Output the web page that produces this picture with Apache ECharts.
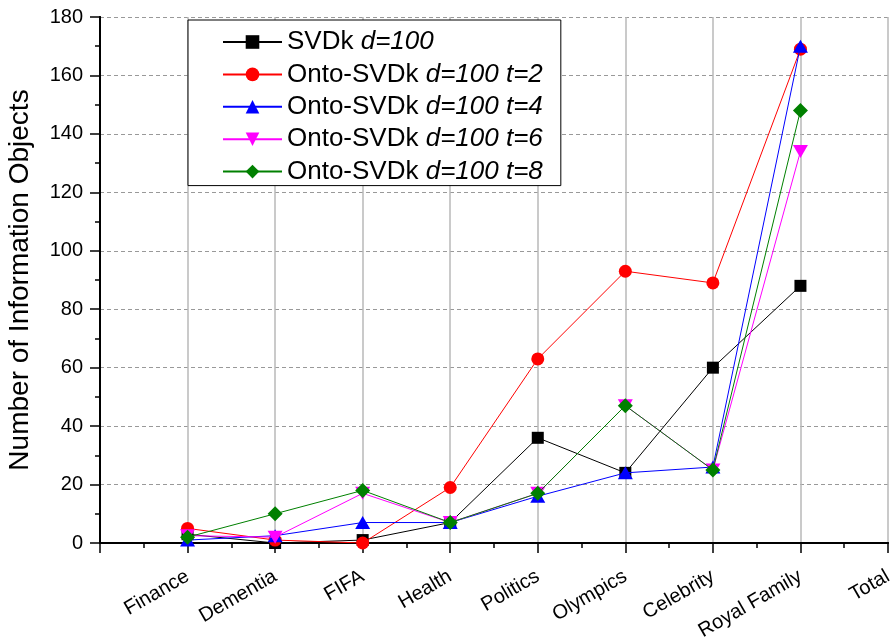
<!DOCTYPE html>
<html>
<head>
<meta charset="utf-8">
<script src="https://cdn.jsdelivr.net/npm/echarts@6/dist/echarts.min.js"></script>
<style>html,body{margin:0;padding:0;background:#fff}#c{width:891px;height:643px}</style>
</head>
<body>
<div id="c"></div>
<script>
const categories = ['Finance','Dementia','FIFA','Health','Politics','Olympics','Celebrity','Royal Family','Total'];
const seriesNames = ['SVDk d=100','Onto-SVDk d=100 t=2','Onto-SVDk d=100 t=4','Onto-SVDk d=100 t=6','Onto-SVDk d=100 t=8'];
const svdk   = [3, 0, 1, 7, 36, 24, 60, 88];
const ontoT2 = [5, 1, 0, 19, 63, 93, 89, 169];
const ontoT4 = [1, 2.5, 7, 7, 16, 24, 26, 170];
const ontoT6 = [2.5, 2, 17, 7, 17, 47, 25, 134];
const ontoT8 = [2, 10, 18, 7, 17, 47, 25, 148];
const yTicks = [0, 20, 40, 60, 80, 100, 120, 140, 160, 180];

const FONT = 'Liberation Sans, Arial, sans-serif';
const colors = ['#000000', '#ff0000', '#0000ff', '#ff00ff', '#008000'];
const symbols = ['rect', 'circle', 'triangle', 'path://M0,0 L10,0 L5,9 Z', 'diamond'];
const sizes = [12, 13, [15, 13], [15, 13], 15];
const valueSets = [svdk, ontoT2, ontoT4, ontoT6, ontoT8];

const chart = echarts.init(document.getElementById('c'), null, {renderer: 'canvas'});
const axisLine = {show: true, lineStyle: {color: '#000', width: 2}};
chart.setOption({
  animation: false,
  backgroundColor: '#fff',
  grid: {left: 100, right: 3, top: 17, bottom: 100, outerBoundsMode: 'none', containLabel: false},
  legend: {
    orient: 'vertical', left: 188, top: 20,
    backgroundColor: '#fff', borderColor: '#000', borderWidth: 1,
    padding: [9, 18, 1, 34],
    itemWidth: 59, itemHeight: 17, itemGap: 6.4,
    textStyle: {fontFamily: FONT, fontSize: 26, color: '#000',
      rich: {n: {fontFamily: FONT, fontSize: 26, lineHeight: 26, color: '#000'},
             i: {fontFamily: FONT, fontSize: 26, lineHeight: 26, fontStyle: 'italic', color: '#000'}}},
    formatter: function (name) {
      const k = name.indexOf(' d=');
      return '{n|' + name.slice(0, k) + ' }{i|' + name.slice(k + 1) + '}';
    },
    data: seriesNames
  },
  xAxis: [{
    type: 'value', min: 0, max: 9, interval: 1, position: 'bottom',
    axisLine: axisLine,
    axisTick: {show: true, length: 10, inside: false, lineStyle: {color: '#000', width: 1.5}},
    minorTick: {show: true, splitNumber: 2, length: 5, lineStyle: {color: '#000', width: 1.5}},
    axisLabel: {rotate: 30, margin: 32, fontFamily: FONT, fontSize: 20, color: '#000',
      formatter: v => (v >= 1 && v <= categories.length) ? categories[v - 1] : ''},
    splitLine: {show: true, lineStyle: {color: '#b8b8b8', width: 1.5}}
  }, {
    type: 'value', min: 0, max: 9, interval: 1, position: 'top',
    axisLine: axisLine,
    axisTick: {show: true, length: 6, inside: true, lineStyle: {color: '#000', width: 1.5}},
    minorTick: {show: true, splitNumber: 2, length: 4, lineStyle: {color: '#000', width: 1.5}},
    axisLabel: {show: false}, splitLine: {show: false}
  }],
  yAxis: [{
    type: 'value', min: 0, max: 180, interval: 20, position: 'left',
    name: 'Number of Information Objects', nameLocation: 'middle', nameGap: 66,
    nameTextStyle: {fontFamily: FONT, fontSize: 28, color: '#000'},
    axisLine: axisLine,
    axisTick: {show: true, length: 10, inside: false, lineStyle: {color: '#000', width: 1.5}},
    minorTick: {show: true, splitNumber: 2, length: 5, lineStyle: {color: '#000', width: 1.5}},
    axisLabel: {margin: 17, fontFamily: FONT, fontSize: 20, color: '#000',
      formatter: v => yTicks.includes(v) ? String(v) : ''},
    splitLine: {show: true, lineStyle: {color: '#999', width: 1, type: [4, 3]}}
  }, {
    type: 'value', min: 0, max: 180, interval: 20, position: 'right',
    axisLine: axisLine,
    axisTick: {show: true, length: 7, inside: true, lineStyle: {color: '#000', width: 1.5}},
    minorTick: {show: true, splitNumber: 2, length: 4, lineStyle: {color: '#000', width: 1.5}},
    axisLabel: {show: false}, splitLine: {show: false}
  }],
  series: seriesNames.map((name, s) => ({
    name: name, type: 'line', xAxisIndex: 0, yAxisIndex: 0,
    data: valueSets[s].map((v, i) => [i + 1, v]),
    symbol: symbols[s], symbolSize: sizes[s], showSymbol: true,
    lineStyle: {color: colors[s], width: 1},
    itemStyle: {color: colors[s]},
    z: 2 + s
  }))
});
</script>
</body>
</html>
